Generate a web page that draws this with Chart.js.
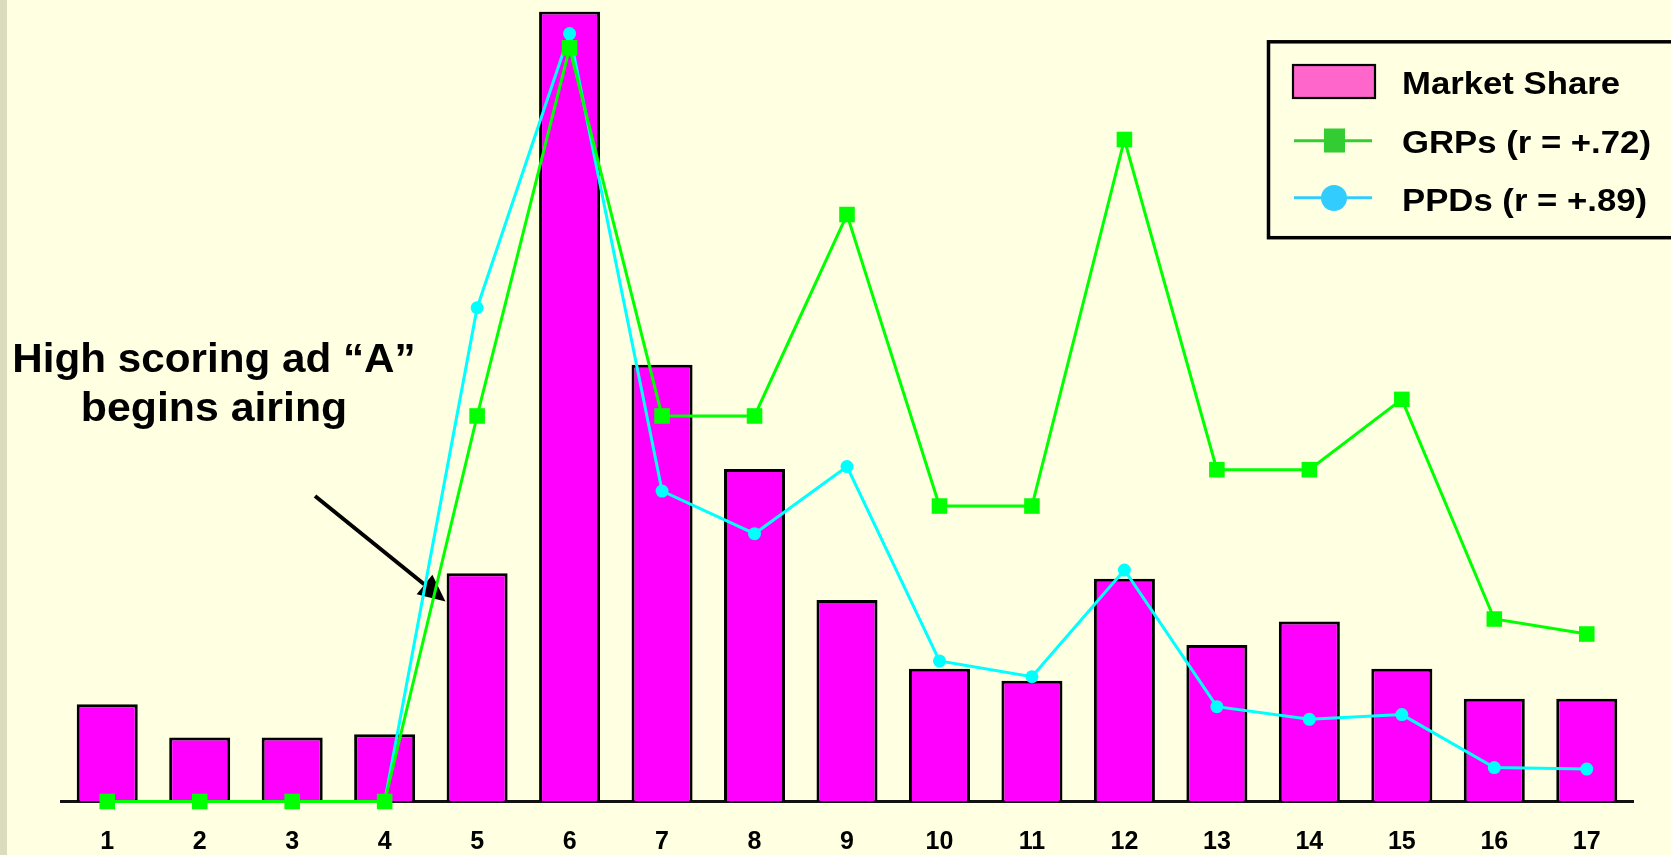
<!DOCTYPE html>
<html>
<head>
<meta charset="utf-8">
<script src="https://cdn.jsdelivr.net/npm/chart.js@4.4.1/dist/chart.umd.min.js"></script>
<style>
  html, body { margin: 0; padding: 0; background: #FFFFE1; overflow: hidden; }
  canvas { display: block; }
</style>
</head>
<body>
<canvas id="chart" width="1671" height="855"></canvas>
<script>
// Weekly tracking: market share (bars) against GRPs and PPDs (lines), indexed to a common 0-100 scale
const weeks = ['1', '2', '3', '4', '5', '6', '7', '8', '9', '10', '11', '12', '13', '14', '15', '16', '17'];
const marketShare = [12.3, 8.1, 8.1, 8.5, 28.9, 100, 55.3, 42.1, 25.5, 16.8, 15.3, 28.2, 19.8, 22.8, 16.8, 13.0, 13.0];
const grps = [0, 0, 0, 0, 48.8, 95.4, 48.8, 48.8, 74.3, 37.4, 37.4, 83.8, 42.0, 42.0, 50.9, 23.1, 21.2];
const ppds = [0, 0, 0, 0, 62.5, 97.2, 39.3, 33.9, 42.4, 17.8, 15.8, 29.3, 12.0, 10.4, 11.0, 4.3, 4.1];
const seriesNames = ['Market Share', 'GRPs (r = +.72)', 'PPDs (r = +.89)'];
const noteLines = ['High scoring ad \u201CA\u201D', 'begins airing'];

const FONT = "'Liberation Sans', Arial, Helvetica, sans-serif";

function stretchedText(ctx, text, x, y, sx, align) {
  ctx.save();
  ctx.translate(x, y);
  ctx.scale(sx, 1);
  ctx.textAlign = align;
  ctx.textBaseline = 'alphabetic';
  ctx.fillText(text, 0, 0);
  ctx.restore();
}

// Page background with the narrow strip on the left edge
const backdrop = {
  id: 'backdrop',
  beforeDraw(chart) {
    const ctx = chart.ctx;
    ctx.save();
    ctx.fillStyle = '#FFFFE1';
    ctx.fillRect(0, 0, chart.width, chart.height);
    ctx.fillStyle = '#DBDBBD';
    ctx.fillRect(0, 0, 7, chart.height);
    ctx.restore();
  }
};

// Callout text and arrow pointing at the week the new ad started
const callout = {
  id: 'callout',
  beforeDatasetsDraw(chart) {
    const ctx = chart.ctx;
    ctx.save();
    ctx.fillStyle = '#000';
    ctx.font = 'bold 40px ' + FONT;
    stretchedText(ctx, noteLines[0], 214, 371.5, 1.055, 'center');
    stretchedText(ctx, noteLines[1], 214, 421, 1.07, 'center');

    const x0 = 315, y0 = 496, tx = 445.5, ty = 601.5;
    const ang = Math.atan2(ty - y0, tx - x0);
    const headLen = 27, headHalf = 12.5;
    const bx = tx - headLen * Math.cos(ang), by = ty - headLen * Math.sin(ang);
    ctx.strokeStyle = '#000';
    ctx.lineWidth = 4;
    ctx.beginPath();
    ctx.moveTo(x0, y0);
    ctx.lineTo(bx, by);
    ctx.stroke();
    ctx.beginPath();
    ctx.moveTo(tx, ty);
    ctx.lineTo(bx + headHalf * Math.sin(ang), by - headHalf * Math.cos(ang));
    ctx.lineTo(bx - headHalf * Math.sin(ang), by + headHalf * Math.cos(ang));
    ctx.closePath();
    ctx.fill();
    ctx.restore();
  }
};

// Boxed key in the top right corner
const keyBox = {
  id: 'keyBox',
  afterDraw(chart) {
    const ctx = chart.ctx;
    const ds = chart.data.datasets;
    ctx.save();
    ctx.strokeStyle = '#000';
    ctx.lineWidth = 3.5;
    ctx.strokeRect(1268.5, 41.8, 430, 195.9);

    // bar swatch
    ctx.fillStyle = '#FF66CC';
    ctx.fillRect(1292, 64, 84, 35);
    ctx.lineWidth = 2.2;
    ctx.strokeRect(1293, 65, 82, 33);

    // GRPs sample
    ctx.strokeStyle = '#33CC33';
    ctx.lineWidth = 3;
    ctx.beginPath();
    ctx.moveTo(1294, 140.7);
    ctx.lineTo(1372, 140.7);
    ctx.stroke();
    ctx.fillStyle = '#33CC33';
    ctx.fillRect(1324, 128.5, 21, 24);

    // PPDs sample
    ctx.strokeStyle = '#33CCFF';
    ctx.beginPath();
    ctx.moveTo(1294, 197.7);
    ctx.lineTo(1372, 197.7);
    ctx.stroke();
    ctx.fillStyle = '#33CCFF';
    ctx.beginPath();
    ctx.arc(1334, 198, 13, 0, Math.PI * 2);
    ctx.fill();

    ctx.fillStyle = '#000';
    ctx.font = 'bold 31px ' + FONT;
    const rows = [94, 153.3, 210.7];
    ds.forEach((d, i) => stretchedText(ctx, d.label, 1402, rows[i], 1.12, 'left'));
    ctx.restore();
  }
};

new Chart(document.getElementById('chart'), {
  data: {
    labels: weeks,
    datasets: [
      {
        type: 'bar',
        label: seriesNames[0],
        data: marketShare,
        backgroundColor: '#FF00FF',
        borderColor: '#000000',
        borderWidth: 3,
        barPercentage: 0.66,
        categoryPercentage: 1.0,
        order: 3
      },
      {
        type: 'line',
        label: seriesNames[1],
        data: grps,
        borderColor: '#00FF00',
        borderWidth: 3,
        tension: 0,
        pointStyle: 'rect',
        pointRadius: 11,
        pointBackgroundColor: '#00FF00',
        pointBorderWidth: 0,
        clip: false,
        order: 1
      },
      {
        type: 'line',
        label: seriesNames[2],
        data: ppds,
        borderColor: '#00FFFF',
        borderWidth: 3,
        tension: 0,
        pointStyle: 'circle',
        pointRadius: 6.5,
        pointBackgroundColor: '#00FFFF',
        pointBorderWidth: 0,
        clip: false,
        order: 2
      }
    ]
  },
  options: {
    responsive: false,
    animation: false,
    events: [],
    layout: { padding: { left: 61, right: 38, top: 11.5, bottom: 0 } },
    plugins: {
      legend: { display: false },
      tooltip: { enabled: false }
    },
    scales: {
      x: {
        offset: true,
        grid: { display: false, drawTicks: false },
        border: { display: true, color: '#111111', width: 3 },
        ticks: {
          color: '#000000',
          padding: 26,
          autoSkip: false,
          maxRotation: 0,
          font: { family: FONT, size: 25, weight: 'bold', lineHeight: 1.2 }
        },
        afterFit(scale) { scale.height = 53.5; }
      },
      y: {
        display: false,
        min: 0,
        max: 100
      }
    }
  },
  plugins: [backdrop, callout, keyBox]
});
</script>
</body>
</html>
